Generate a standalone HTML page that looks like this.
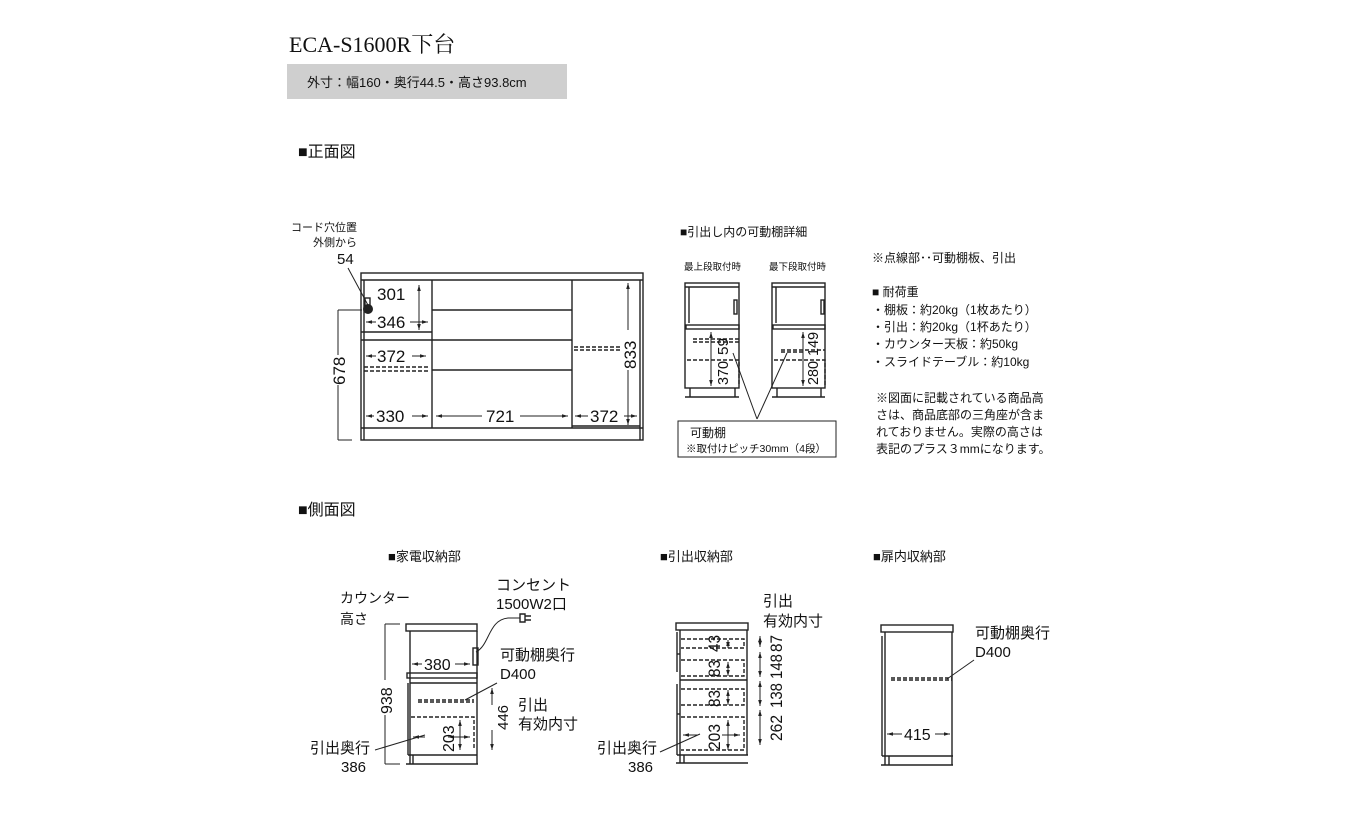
<!DOCTYPE html>
<html><head><meta charset="utf-8"><style>
html,body{margin:0;padding:0;background:#fff;}
svg{display:block}
text{font-family:"Liberation Sans","Noto Sans CJK JP",sans-serif;fill:#111}
.s{stroke:#222;stroke-width:1.4;fill:none}
.t{stroke:#222;stroke-width:1;fill:none}
.d{stroke:#222;stroke-width:1.4;fill:none;stroke-dasharray:4 2}
</style></head><body>
<svg width="1360" height="840" viewBox="0 0 1360 840" xmlns="http://www.w3.org/2000/svg">
<defs><marker id="a" viewBox="0 0 10 10" refX="10" refY="5" markerWidth="6" markerHeight="6" orient="auto-start-reverse"><path d="M0,2 L10,5 L0,8z" fill="#222"/></marker></defs>
<text x="289" y="52" style="font-family:'Liberation Serif','Noto Serif CJK SC',serif;font-size:22px">ECA-S1600R下台</text>
<rect x="287" y="64" width="280" height="35" fill="#cfcfcf"/>
<text x="307" y="87" font-size="13">外寸：幅160・奥行44.5・高さ93.8cm</text>
<text x="298" y="157" font-size="16">■正面図</text>
<text x="298" y="515" font-size="16">■側面図</text>

<!-- front view -->
<text x="357" y="231" font-size="11" text-anchor="end">コード穴位置</text>
<text x="357" y="246" font-size="11" text-anchor="end">外側から</text>
<text x="337" y="264" font-size="15">54</text>
<line class="t" x1="348" y1="268" x2="369" y2="307"/>
<rect class="s" x="361" y="273" width="282" height="167"/>
<line class="s" x1="361" y1="280" x2="643" y2="280"/>
<line class="s" x1="432" y1="280" x2="432" y2="428"/>
<line class="s" x1="572" y1="280" x2="572" y2="428"/>
<line class="s" x1="640" y1="280" x2="640" y2="440"/>
<line class="s" x1="364" y1="280" x2="364" y2="440"/>
<line class="s" x1="361" y1="332" x2="432" y2="332"/>
<line class="s" x1="361" y1="340" x2="432" y2="340"/>
<line class="s" x1="432" y1="310" x2="572" y2="310"/>
<line class="s" x1="432" y1="340" x2="572" y2="340"/>
<line class="s" x1="432" y1="370" x2="572" y2="370"/>
<line class="s" x1="361" y1="428" x2="643" y2="428"/>
<line class="s" x1="572" y1="426" x2="640" y2="426"/>
<rect class="s" x="365" y="298" width="5" height="12"/>
<circle cx="368" cy="309" r="5" fill="#222"/>
<line class="t" x1="338" y1="310" x2="338" y2="440"/>
<line class="t" x1="338" y1="310" x2="362" y2="310"/>
<line class="t" x1="338" y1="440" x2="352" y2="440"/>
<rect x="330" y="355" width="16" height="30" fill="#fff"/>
<text font-size="17" transform="translate(345,385) rotate(-90)">678</text>
<text x="377" y="300" font-size="17">301</text>
<line class="t" x1="419" y1="285" x2="419" y2="330" marker-start="url(#a)" marker-end="url(#a)"/>
<text x="377" y="328" font-size="17">346</text>
<line class="t" x1="366" y1="322" x2="376" y2="322" marker-start="url(#a)"/>
<line class="t" x1="410" y1="322" x2="428" y2="322" marker-end="url(#a)"/>
<text x="377" y="362" font-size="17">372</text>
<line class="t" x1="366" y1="356" x2="376" y2="356" marker-start="url(#a)"/>
<line class="t" x1="412" y1="356" x2="426" y2="356" marker-end="url(#a)"/>
<path class="d" d="M364,367 H428 M364,371 H428"/>
<path class="d" d="M574,347 H620 M574,350 H620"/>
<text x="376" y="422" font-size="17">330</text>
<line class="t" x1="366" y1="416" x2="374" y2="416" marker-start="url(#a)"/>
<line class="t" x1="412" y1="416" x2="428" y2="416" marker-end="url(#a)"/>
<text x="486" y="422" font-size="17">721</text>
<line class="t" x1="436" y1="416" x2="482" y2="416" marker-start="url(#a)"/>
<line class="t" x1="520" y1="416" x2="568" y2="416" marker-end="url(#a)"/>
<text x="590" y="422" font-size="17">372</text>
<line class="t" x1="575" y1="416" x2="588" y2="416" marker-start="url(#a)"/>
<line class="t" x1="624" y1="416" x2="637" y2="416" marker-end="url(#a)"/>
<line class="t" x1="628" y1="283" x2="628" y2="425" marker-start="url(#a)" marker-end="url(#a)"/>
<rect x="620" y="330" width="17" height="40" fill="#fff"/>
<text font-size="17" transform="translate(636,369) rotate(-90)">833</text>

<!-- detail -->
<text x="680" y="236" font-size="12">■引出し内の可動棚詳細</text>
<text x="684" y="270" font-size="9.5">最上段取付時</text>
<text x="769" y="270" font-size="9.5">最下段取付時</text>
<g>
<rect class="s" x="685" y="283" width="54" height="105"/>
<line class="s" x1="685" y1="287" x2="739" y2="287"/>
<line class="s" x1="689" y1="287" x2="689" y2="323"/>
<rect class="s" x="686" y="325" width="53" height="4"/>
<rect class="s" x="734" y="300" width="3" height="14"/>
<line class="s" x1="690" y1="388" x2="690" y2="397"/><line class="s" x1="735" y1="388" x2="735" y2="397"/><line class="s" x1="685" y1="397" x2="739" y2="397"/>
<path class="d" d="M693,339 H739 M693,342 H739 M687,360 H739 V386"/>
<line class="t" x1="711" y1="332" x2="711" y2="386" marker-start="url(#a)" marker-end="url(#a)"/>
<text font-size="15" transform="translate(728,385) rotate(-90)" textLength="24" lengthAdjust="spacingAndGlyphs">370</text>
<text font-size="15" transform="translate(728,355) rotate(-90)" textLength="17" lengthAdjust="spacingAndGlyphs">59</text>
</g>
<g>
<rect class="s" x="772" y="283" width="53" height="105"/>
<line class="s" x1="772" y1="287" x2="825" y2="287"/>
<line class="s" x1="776" y1="287" x2="776" y2="323"/>
<rect class="s" x="773" y="325" width="52" height="4"/>
<rect class="s" x="821" y="300" width="3" height="14"/>
<line class="s" x1="777" y1="388" x2="777" y2="397"/><line class="s" x1="821" y1="388" x2="821" y2="397"/><line class="s" x1="772" y1="397" x2="825" y2="397"/>
<path class="d" d="M781,350 H825 M781,352 H804 M774,360 H825 V386"/>
<line class="t" x1="803" y1="332" x2="803" y2="386" marker-start="url(#a)" marker-end="url(#a)"/>
<text font-size="15" transform="translate(818,385) rotate(-90)" textLength="24" lengthAdjust="spacingAndGlyphs">280</text>
<text font-size="15" transform="translate(818,356) rotate(-90)" textLength="24" lengthAdjust="spacingAndGlyphs">149</text>
</g>
<line class="t" x1="733" y1="353" x2="757" y2="419"/>
<line class="t" x1="787" y1="353" x2="757" y2="419"/>
<rect class="t" x="678" y="421" width="158" height="36"/>
<text x="690" y="437" font-size="12">可動棚</text>
<text x="686" y="452" font-size="10.5">※取付けピッチ30mm（4段）</text>

<!-- notes -->
<text x="872" y="262" font-size="12">※点線部･･可動棚板、引出</text>
<text x="872" y="296" font-size="12">■ 耐荷重</text>
<text x="872" y="314" font-size="12">・棚板：約20kg（1枚あたり）</text>
<text x="872" y="331" font-size="12">・引出：約20kg（1杯あたり）</text>
<text x="872" y="348" font-size="12">・カウンター天板：約50kg</text>
<text x="872" y="366" font-size="12">・スライドテーブル：約10kg</text>
<text x="876" y="402" font-size="12">※図面に記載されている商品高</text>
<text x="876" y="419" font-size="12">さは、商品底部の三角座が含ま</text>
<text x="876" y="436" font-size="12">れておりません。実際の高さは</text>
<text x="876" y="453" font-size="12">表記のプラス３mmになります。</text>

<!-- side view: 家電 -->
<text x="388" y="561" font-size="13">■家電収納部</text>
<text x="340" y="603" font-size="14">カウンター</text>
<text x="340" y="624" font-size="14">高さ</text>
<text x="496" y="590" font-size="15">コンセント</text>
<text x="496" y="609" font-size="15">1500W2口</text>
<path class="t" d="M476,652 C490,645 488,620 508,618 L520,618"/>
<path class="s" d="M520,614 h5 v8 h-5z M525,616 h6 M525,620 h6"/>
<rect class="s" x="406" y="624" width="71" height="7"/>
<line class="s" x1="410" y1="631" x2="410" y2="764"/>
<line class="s" x1="477" y1="631" x2="477" y2="764"/>
<rect class="s" x="473" y="648" width="5" height="17"/>
<rect class="s" x="407" y="673" width="70" height="5"/>
<line class="s" x1="408" y1="683" x2="408" y2="755"/>
<line class="s" x1="410" y1="683" x2="477" y2="683"/>
<line class="s" x1="408" y1="755" x2="477" y2="755"/>
<line class="s" x1="413" y1="755" x2="413" y2="764"/>
<line class="s" x1="406" y1="764" x2="478" y2="764"/>
<path class="d" d="M418,700 H474 M418,702 H474"/>
<path class="d" d="M411,717 H474 V750"/>
<text x="424" y="670" font-size="16">380</text>
<line class="t" x1="412" y1="664" x2="422" y2="664" marker-start="url(#a)"/>
<line class="t" x1="455" y1="664" x2="470" y2="664" marker-end="url(#a)"/>
<line class="t" x1="385" y1="624" x2="400" y2="624"/>
<line class="t" x1="385" y1="764" x2="400" y2="764"/>
<line class="t" x1="385" y1="624" x2="385" y2="764"/>
<rect x="376" y="680" width="18" height="35" fill="#fff"/>
<text font-size="16" transform="translate(392,714) rotate(-90)">938</text>
<text x="500" y="660" font-size="15">可動棚奥行</text>
<text x="500" y="679" font-size="15">D400</text>
<line class="t" x1="497" y1="683" x2="465" y2="700"/>
<line class="t" x1="492" y1="688" x2="492" y2="750" marker-start="url(#a)" marker-end="url(#a)"/>
<rect x="485" y="705" width="16" height="25" fill="#fff"/>
<text font-size="15" transform="translate(508,730) rotate(-90)">446</text>
<text x="518" y="710" font-size="15">引出</text>
<text x="518" y="729" font-size="15">有効内寸</text>
<line class="t" x1="413" y1="737" x2="425" y2="737" marker-start="url(#a)"/>
<line class="t" x1="448" y1="737" x2="470" y2="737" marker-start="url(#a)" marker-end="url(#a)"/>
<line class="t" x1="460" y1="720" x2="460" y2="750" marker-start="url(#a)" marker-end="url(#a)"/>
<text font-size="16" transform="translate(454,752) rotate(-90)">203</text>
<text x="310" y="753" font-size="15">引出奥行</text>
<text x="341" y="772" font-size="15">386</text>
<line class="t" x1="375" y1="750" x2="425" y2="735"/>

<!-- side view: 引出 -->
<text x="660" y="561" font-size="13">■引出収納部</text>
<text x="763" y="606" font-size="15">引出</text>
<text x="763" y="626" font-size="15">有効内寸</text>
<rect class="s" x="676" y="623" width="72" height="7"/>
<line class="s" x1="680" y1="630" x2="680" y2="763"/>
<line class="s" x1="747" y1="630" x2="747" y2="755"/>
<line class="s" x1="677" y1="632" x2="677" y2="672"/>
<line class="s" x1="677" y1="654" x2="680" y2="654"/>
<line class="s" x1="680" y1="680" x2="747" y2="680"/>
<line class="s" x1="677" y1="684" x2="677" y2="755"/>
<line class="s" x1="677" y1="714" x2="680" y2="714"/>
<line class="s" x1="677" y1="755" x2="748" y2="755"/>
<line class="s" x1="684" y1="755" x2="684" y2="763"/>
<line class="s" x1="676" y1="763" x2="748" y2="763"/>
<path class="d" d="M681,639 H744 V648 H681 M681,660 H744 V676 H681 M681,689 H744 V705 H681 M681,717 H744 V750 H681"/>
<text font-size="17" transform="translate(720,652) rotate(-90)" textLength="17" lengthAdjust="spacingAndGlyphs">43</text>
<text font-size="17" transform="translate(720,677) rotate(-90)" textLength="17" lengthAdjust="spacingAndGlyphs">83</text>
<text font-size="17" transform="translate(720,707) rotate(-90)" textLength="17" lengthAdjust="spacingAndGlyphs">83</text>
<text font-size="17" transform="translate(720,750) rotate(-90)" textLength="26" lengthAdjust="spacingAndGlyphs">203</text>
<line class="t" x1="728" y1="640" x2="728" y2="648" marker-start="url(#a)" marker-end="url(#a)"/>
<line class="t" x1="728" y1="662" x2="728" y2="676" marker-start="url(#a)" marker-end="url(#a)"/>
<line class="t" x1="728" y1="690" x2="728" y2="705" marker-start="url(#a)" marker-end="url(#a)"/>
<line class="t" x1="728" y1="720" x2="728" y2="750" marker-start="url(#a)" marker-end="url(#a)"/>
<line class="t" x1="683" y1="735" x2="698" y2="735" marker-start="url(#a)"/>
<line class="t" x1="722" y1="735" x2="740" y2="735" marker-end="url(#a)"/>
<line class="t" x1="760" y1="636" x2="760" y2="647" marker-start="url(#a)" marker-end="url(#a)"/>
<line class="t" x1="760" y1="652" x2="760" y2="677" marker-start="url(#a)" marker-end="url(#a)"/>
<line class="t" x1="760" y1="681" x2="760" y2="706" marker-start="url(#a)" marker-end="url(#a)"/>
<line class="t" x1="760" y1="710" x2="760" y2="745" marker-start="url(#a)" marker-end="url(#a)"/>
<text font-size="17" transform="translate(782,652) rotate(-90)" textLength="17" lengthAdjust="spacingAndGlyphs">87</text>
<text font-size="17" transform="translate(782,679) rotate(-90)" textLength="25" lengthAdjust="spacingAndGlyphs">148</text>
<text font-size="17" transform="translate(782,708) rotate(-90)" textLength="25" lengthAdjust="spacingAndGlyphs">138</text>
<text font-size="17" transform="translate(782,741) rotate(-90)" textLength="26" lengthAdjust="spacingAndGlyphs">262</text>
<text x="597" y="753" font-size="15">引出奥行</text>
<text x="628" y="772" font-size="15">386</text>
<line class="t" x1="660" y1="752" x2="700" y2="734"/>

<!-- side view: 扉内 -->
<text x="873" y="561" font-size="13">■扉内収納部</text>
<text x="975" y="638" font-size="15">可動棚奥行</text>
<text x="975" y="657" font-size="15">D400</text>
<rect class="s" x="881" y="625" width="72" height="7"/>
<line class="s" x1="885" y1="632" x2="885" y2="765"/>
<line class="s" x1="952" y1="632" x2="952" y2="765"/>
<line class="s" x1="882" y1="636" x2="882" y2="756"/>
<line class="s" x1="882" y1="756" x2="953" y2="756"/>
<line class="s" x1="889" y1="756" x2="889" y2="765"/>
<line class="s" x1="881" y1="765" x2="953" y2="765"/>
<path class="d" d="M891,678 H952 M891,680 H952"/>
<line class="t" x1="974" y1="660" x2="947" y2="679"/>
<text x="904" y="740" font-size="16">415</text>
<line class="t" x1="887" y1="734" x2="902" y2="734" marker-start="url(#a)"/>
<line class="t" x1="935" y1="734" x2="950" y2="734" marker-end="url(#a)"/>
</svg>
</body></html>
